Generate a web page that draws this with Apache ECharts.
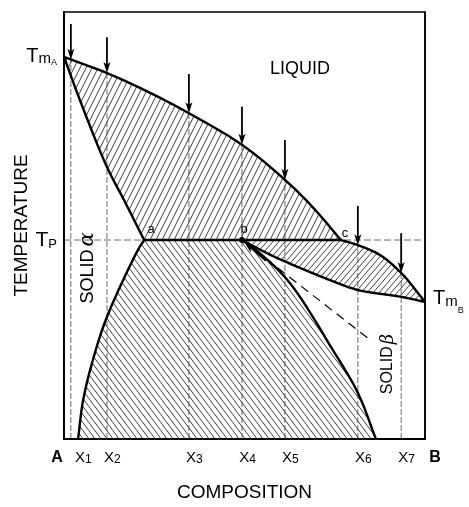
<!DOCTYPE html>
<html><head><meta charset="utf-8">
<script src="https://cdn.jsdelivr.net/npm/echarts@6/dist/echarts.min.js"></script>
<style>html,body{margin:0;padding:0;background:#fff}#c{width:469px;height:507px}</style>
</head><body><div id="c"></div>
<script>
// ---- data (composition %, temperature % of axis range) ----
const liquidusA = [[0,89.5],[11.9,85.7],[23.3,81.3],[34.6,76.3],[49.3,68.9],[61.2,60.7],[69.0,54.2],[76.7,46.6]];
const liquidusB = [[76.7,46.6],[81.4,45.4],[87.5,43.1],[93.4,38.9],[100,32.1]];
const solidusA = [[0,89.5],[4.4,79.4],[11.9,63.7],[16.9,55.5],[22.2,46.6]];
const solvusA = [[22.2,46.6],[20.5,44.3],[11.9,28.6],[8.0,18.5],[5.3,9.1],[3.9,0]];
const solidusB = [[49.3,46.6],[55.1,44.0],[59.8,42.1],[73.7,37.2],[81.4,34.9],[93.4,33.3],[100,32.1]];
const solvusB = [[49.3,46.6],[54.8,43.1],[62.6,36.5],[74.5,20.8],[81.4,10.8],[86.4,0]];
const metastableB = [[49.3,46.6],[84.8,23.2]];
const Tp = 46.6, TmA = 89.5, TmB = 32.1;
const pointA = 22.2, pointB = 49.3, pointC = 76.7;
const compositions = [1.9, 11.9, 34.6, 49.3, 61.2, 81.4, 93.4];
const compLabels = ['1','2','3','4','5','6','7'];
const endLabels = ['A', 'B'];
const arrowTail = [97.2, 94.1, 85.5, 77.8, 70.0, 54.6, 48.2];
const arrowTip = [88.8, 85.7, 76.3, 68.9, 60.7, 45.4, 38.9];
const bArrow = [[56.0, 41.8], [49.9, 46.2]];

const FONT = '"Liberation Sans", Arial, Helvetica, sans-serif';

function makeHatch(w, h, dir) {
  const cv = document.createElement('canvas');
  cv.width = w; cv.height = h;
  const ctx = cv.getContext('2d');
  ctx.strokeStyle = '#2a2a2a'; ctx.lineWidth = 0.9;
  ctx.beginPath();
  for (let k = -1; k <= 1; k++) {
    if (dir === '/') { ctx.moveTo(k*w, h); ctx.lineTo(k*w + w, 0); }
    else { ctx.moveTo(k*w, 0); ctx.lineTo(k*w + w, h); }
  }
  ctx.stroke();
  return {image: cv, repeat: 'repeat'};
}
const patLA = makeHatch(6, 12, '/');
const patLB = makeHatch(6, 7, '/');
const patAB = makeHatch(6, 8, '\\');

function crSpline(pts, n) {
  const L = pts.length;
  if (L < 3) return pts.slice();
  const P = [[2*pts[0][0]-pts[1][0], 2*pts[0][1]-pts[1][1]]].concat(pts,
    [[2*pts[L-1][0]-pts[L-2][0], 2*pts[L-1][1]-pts[L-2][1]]]);
  const d = (a,b) => Math.pow(Math.hypot(b[0]-a[0], b[1]-a[1]), 0.5) || 1e-4;
  const out = [];
  for (let i = 1; i < P.length - 2; i++) {
    const p0=P[i-1], p1=P[i], p2=P[i+1], p3=P[i+2];
    const t0=0, t1=t0+d(p0,p1), t2=t1+d(p1,p2), t3=t2+d(p2,p3);
    for (let k = 0; k < n; k++) {
      const t = t1 + (t2-t1)*k/n;
      const lerp = (a,b,ta,tb) => [(tb-t)/(tb-ta)*a[0]+(t-ta)/(tb-ta)*b[0], (tb-t)/(tb-ta)*a[1]+(t-ta)/(tb-ta)*b[1]];
      const A1=lerp(p0,p1,t0,t1), A2=lerp(p1,p2,t1,t2), A3=lerp(p2,p3,t2,t3);
      const B1=lerp(A1,A2,t0,t2), B2=lerp(A2,A3,t1,t3);
      out.push(lerp(B1,B2,t1,t2));
    }
  }
  out.push(pts[L-1]);
  return out;
}
const px = (api, arr) => arr.map(p => api.coord(p));
const curve = (api, arr) => crSpline(px(api, arr), 16);

function arrowShape(from, to, hl, hw, lw) {
  const dx = to[0]-from[0], dy = to[1]-from[1], len = Math.hypot(dx, dy);
  const ux = dx/len, uy = dy/len, nx = -uy, ny = ux;
  const bx = to[0]-ux*hl, by = to[1]-uy*hl;
  const nb = 0.25*hl;
  return [
    {type:'line', shape:{x1:from[0], y1:from[1], x2:to[0]-ux*hl*0.6, y2:to[1]-uy*hl*0.6}, style:{stroke:'#000', lineWidth:lw}},
    {type:'polygon', shape:{points:[to, [bx+nx*hw/2, by+ny*hw/2], [to[0]-ux*(hl-nb), to[1]-uy*(hl-nb)], [bx-nx*hw/2, by-ny*hw/2]]}, style:{fill:'#000'}}
  ];
}

const chart = echarts.init(document.getElementById('c'), null, {renderer:'canvas'});
const txt = {color:'#000', fontFamily: FONT};

const option = {
  animation: false,
  backgroundColor: '#fff',
  grid: {left:64, right:44, top:12, bottom:68, show:true, borderColor:'#000', borderWidth:1.5, containLabel:false, outerBoundsMode:'none'},
  xAxis: {
    type:'value', min:0, max:100,
    axisLine:{show:true, onZero:false, lineStyle:{color:'#000', width:2}},
    axisTick:{show:false}, splitLine:{show:false},
    axisLabel:{
      customValues:compositions, margin:11, hideOverlap:false,
      formatter: v => {
        const i = compositions.indexOf(v);
        return (i === 0 ? '{x1|X}' : '{x|X}') + '{s|' + compLabels[i] + '}';
      },
      rich: {
        x:{...txt, fontSize:15, lineHeight:16, padding:[0,0,0,11]},
        x1:{...txt, fontSize:15, lineHeight:16, padding:[0,0,0,25]},
        s:{...txt, fontSize:12, lineHeight:4, verticalAlign:'bottom'}
      }
    },
    name:'COMPOSITION', nameLocation:'middle', nameGap:44, nameMoveOverlap:false,
    nameTextStyle:{...txt, fontSize:19}
  },
  yAxis: [{
    type:'value', min:0, max:100,
    axisLine:{show:true, onZero:false, lineStyle:{color:'#000', width:2}},
    axisTick:{show:false}, splitLine:{show:false},
    axisLabel:{
      customValues:[Tp, TmA], margin:7, showMinLabel:true, showMaxLabel:true,
      formatter: v => v === TmA ? '{T|T}{m|m}{A|A}' : '{T2|T}{P|P}',
      rich: {
        T:{...txt, fontSize:20, lineHeight:20, verticalAlign:'top'},
        m:{...txt, fontSize:15, lineHeight:17, verticalAlign:'bottom'},
        A:{...txt, fontSize:9, lineHeight:5, verticalAlign:'bottom'},
        T2:{...txt, fontSize:21, lineHeight:21, verticalAlign:'middle'},
        P:{...txt, fontSize:13, lineHeight:4, verticalAlign:'bottom'}
      }
    },
    name:'TEMPERATURE', nameLocation:'middle', nameGap:33, nameRotate:90, nameMoveOverlap:false,
    nameTextStyle:{...txt, fontSize:19}
  }, {
    type:'value', min:0, max:100, position:'right',
    axisLine:{show:true, onZero:false, lineStyle:{color:'#000', width:1.5}},
    axisTick:{show:false}, splitLine:{show:false},
    axisLabel:{
      customValues:[TmB], margin:8,
      formatter: () => '{T|T}{m|m}{B|B}',
      rich: {
        T:{...txt, fontSize:20, lineHeight:20, verticalAlign:'top'},
        m:{...txt, fontSize:15, lineHeight:26, verticalAlign:'middle'},
        B:{...txt, fontSize:9, lineHeight:4, verticalAlign:'bottom'}
      }
    }
  }],
  graphic: [
    {type:'text', x:57, y:458, style:{text:endLabels[0], fontSize:16, fontWeight:'bold', fontFamily:FONT, fill:'#000', textAlign:'center', textVerticalAlign:'middle'}},
    {type:'text', x:435, y:458, style:{text:endLabels[1], fontSize:16, fontWeight:'bold', fontFamily:FONT, fill:'#000', textAlign:'center', textVerticalAlign:'middle'}},
    {type:'text', x:300, y:69, style:{text:'LIQUID', fontSize:18, fontFamily:FONT, fill:'#000', textAlign:'center', textVerticalAlign:'middle'}},
    {type:'text', x:151, y:229, style:{text:'a', fontSize:13, fontFamily:FONT, fill:'#000', textAlign:'center', textVerticalAlign:'middle'}},
    {type:'text', x:244, y:229, style:{text:'b', fontSize:13, fontFamily:FONT, fill:'#000', textAlign:'center', textVerticalAlign:'middle'}},
    {type:'text', x:345, y:233, style:{text:'c', fontSize:13, fontFamily:FONT, fill:'#000', textAlign:'center', textVerticalAlign:'middle'}},
    {type:'text', x:88, y:268, rotation:Math.PI/2, style:{text:'{s|SOLID}{g|α}', textAlign:'center', textVerticalAlign:'middle',
      rich:{s:{fontSize:18, fontFamily:FONT, fill:'#000'}, g:{fontSize:21, fontFamily:'"DejaVu Serif", serif', fontStyle:'italic', fill:'#000', padding:[0,0,0,3]}}}},
    {type:'text', x:388, y:364, rotation:Math.PI/2, style:{text:'{s|SOLID}{g|β}', textAlign:'center', textVerticalAlign:'middle',
      rich:{s:{fontSize:16, fontFamily:FONT, fill:'#000'}, g:{fontSize:18, fontFamily:'"DejaVu Serif", serif', fontStyle:'italic', fill:'#000', padding:[0,0,0,2]}}}}
  ],
  series: [
    { // hatched two-phase regions
      type:'custom', coordinateSystem:'cartesian2d', silent:true, z:1, data:[[0,0]],
      renderItem: (params, api) => {
        const lA = curve(api, liquidusA), sA = curve(api, solidusA);
        const lB = curve(api, liquidusB), sB = curve(api, solidusB);
        const vB = curve(api, solvusB), vA = curve(api, solvusA);
        return {type:'group', children:[
          {type:'polygon', shape:{points: lA.concat(sA.slice().reverse())}, style:{fill:patLA}},
          {type:'polygon', shape:{points: lB.concat(sB.slice().reverse())}, style:{fill:patLB}},
          {type:'polygon', shape:{points: vB.concat(vA.slice().reverse())}, style:{fill:patAB}}
        ]};
      }
    },
    { // guide lines
      type:'custom', coordinateSystem:'cartesian2d', silent:true, z:2, data:[[0,0]],
      renderItem: (params, api) => {
        const ch = [];
        compositions.forEach((x, i) => {
          const p0 = api.coord([x, 0]), p1 = api.coord([x, arrowTip[i]]);
          ch.push({type:'line', shape:{x1:p0[0], y1:p0[1], x2:p1[0], y2:p1[1]}, style:{stroke:'#444', lineWidth:0.8, lineDash:[6,2]}});
        });
        const t0 = api.coord([0, Tp]), t1 = api.coord([100, Tp]);
        ch.push({type:'line', shape:{x1:t0[0], y1:t0[1], x2:t1[0], y2:t1[1]}, style:{stroke:'#444', lineWidth:0.8, lineDash:[7,3]}});
        const m = px(api, metastableB);
        ch.push({type:'polyline', shape:{points:m}, style:{stroke:'#000', lineWidth:1.2, lineDash:[9,6], fill:null}});
        return {type:'group', children:ch};
      }
    },
    { // phase boundaries
      type:'custom', coordinateSystem:'cartesian2d', silent:true, z:3, data:[[0,0]],
      renderItem: (params, api) => {
        const st = {stroke:'#000', lineWidth:2.4, fill:null, lineJoin:'round'};
        const ch = [liquidusA, liquidusB, solidusA, solvusA, solidusB, solvusB].map(arr =>
          ({type:'polyline', shape:{points: curve(api, arr)}, style:st}));
        const a = api.coord([pointA, Tp]), c = api.coord([pointC, Tp]), b = api.coord([pointB, Tp]);
        ch.push({type:'line', shape:{x1:a[0], y1:a[1], x2:c[0], y2:c[1]}, style:{stroke:'#000', lineWidth:2.4}});
        ch.push({type:'circle', shape:{cx:b[0], cy:b[1], r:3}, style:{fill:'#000'}});
        return {type:'group', children:ch};
      }
    },
    { // arrows
      type:'custom', coordinateSystem:'cartesian2d', silent:true, z:4, data:[[0,0]],
      renderItem: (params, api) => {
        let ch = [];
        compositions.forEach((x, i) => {
          ch = ch.concat(arrowShape(api.coord([x, arrowTail[i]]), api.coord([x, arrowTip[i]]), 11, 7, 1.8));
        });
        ch = ch.concat(arrowShape(api.coord(bArrow[0]), api.coord(bArrow[1]), 12, 8, 2.5));
        return {type:'group', children:ch};
      }
    }
  ]
};
chart.setOption(option);
</script></body></html>
